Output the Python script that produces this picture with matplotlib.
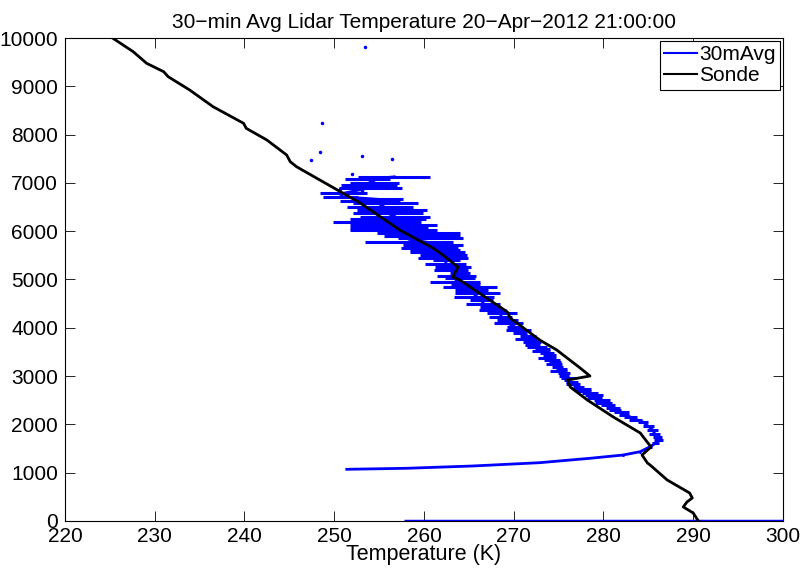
import matplotlib
matplotlib.use("Agg")
import matplotlib.pyplot as plt
from matplotlib.lines import Line2D
import numpy as np

plt.rcParams['font.family'] = ['Liberation Sans', 'DejaVu Sans']

# Radiosonde profile (K, m)
sonde_temp = [290.6, 290.5, 290.0, 288.9, 289.3, 289.9, 289.6, 287.1, 285.2, 284.9,
              284.3, 285.3, 284.1, 281.1, 278.2, 276.3, 276.0, 278.5, 277.4, 274.8,
              272.9, 269.6, 269.3, 264.0, 263.2, 263.8, 262.1, 261.0, 257.3, 252.9,
              245.8, 245.1, 244.7, 242.5, 240.2, 239.9, 236.5, 233.9, 231.5, 231.0,
              229.1, 227.6, 225.3]
sonde_alt = [0, 21, 166, 290, 393, 476, 580, 849, 1159, 1201,
             1366, 1532, 1822, 2153, 2505, 2774, 2919, 3002, 3168, 3540,
             3747, 4203, 4327, 4990, 5052, 5259, 5507, 5652, 6025, 6584,
             7335, 7439, 7578, 7888, 8130, 8234, 8578, 8923, 9199, 9302,
             9476, 9717, 10000]

# 30-min averaged lidar temperature with error (K, m)
lidar_alt = [1070, 1091, 1139, 1207, 1298, 1366, 1435, 1538, 1610, 1677,
             1740, 1810, 1884, 1960, 2050, 2100, 2153, 2200, 2250, 2300,
             2340, 2400, 2450, 2505, 2550, 2600, 2643, 2700, 2740, 2781,
             2830, 2870, 2919, 2970, 3010, 3058, 3100, 3150, 3195, 3240,
             3290, 3333, 3380, 3430, 3472, 3520, 3570, 3609, 3644, 3712,
             3760, 3820, 3886, 3950, 4023, 4090, 4161, 4230, 4300, 4370,
             4437, 4500, 4576, 4640, 4713, 4780, 4851, 4900, 4955, 5030,
             5080, 5128, 5200, 5265, 5330, 5404, 5450, 5507, 5560, 5611,
             5660, 5714, 5783, 5852, 5900, 5956, 6025, 6059, 6128, 6197,
             6250, 6301, 6370, 6439, 6508, 6577, 6620, 6660, 6715, 6784,
             6900, 6957, 7004, 7073, 7126]
lidar_temp = [251.4, 258.1, 265.5, 272.9, 278.5, 282.2, 284.1, 285.2, 285.8, 286.1,
              286.0, 285.7, 285.5, 285.0, 284.4, 283.6, 283.0, 282.3, 282.0, 281.3,
              281.1, 280.5, 280.0, 279.8, 279.0, 278.9, 278.5, 277.8, 277.6, 277.2,
              276.6, 276.5, 276.0, 276.1, 275.6, 275.6, 275.0, 275.3, 274.9, 274.5,
              274.6, 274.3, 273.7, 274.0, 273.7, 273.0, 273.2, 272.6, 272.1, 272.0,
              271.5, 271.6, 270.7, 270.5, 270.1, 269.4, 269.3, 268.5, 268.7, 267.6,
              267.4, 266.6, 266.4, 265.6, 266.0, 265.3, 265.1, 264.6, 263.5, 264.0,
              263.6, 264.0, 263.0, 263.2, 262.4, 262.5, 262.1, 262.2, 261.5, 261.2,
              260.6, 261.0, 258.3, 260.7, 259.8, 259.4, 256.6, 256.1, 256.6, 254.8,
              256.0, 256.8, 256.0, 256.4, 255.1, 255.7, 254.0, 254.9, 250.7, 251.0,
              254.0, 253.9, 254.5, 253.7, 256.7]
lidar_err = [0.0, 0.0, 0.0, 0.0, 0.0, 0.1, 0.1, 0.2, 0.4, 0.5,
             0.5, 0.6, 0.6, 0.6, 0.6, 0.7, 0.7, 0.6, 0.8, 0.7,
             0.8, 0.8, 0.9, 0.9, 0.8, 1.0, 0.9, 0.8, 1.0, 0.6,
             0.8, 0.7, 0.4, 0.8, 0.6, 0.7, 0.9, 0.6, 0.6, 0.9,
             0.7, 0.9, 1.0, 0.7, 0.8, 1.0, 0.8, 1.1, 0.8, 1.0,
             1.3, 0.9, 0.8, 1.4, 0.9, 1.6, 1.2, 1.3, 1.7, 1.5,
             1.2, 1.9, 1.3, 2.2, 2.5, 1.8, 3.0, 1.6, 2.8, 1.7,
             2.2, 1.1, 1.9, 2.0, 2.3, 1.5, 2.8, 2.6, 3.1, 2.8,
             3.2, 3.3, 4.9, 3.6, 4.2, 4.6, 4.8, 4.3, 4.8, 4.9,
             4.2, 3.9, 3.9, 3.9, 3.7, 3.6, 3.3, 2.8, 1.9, 2.6,
             3.5, 3.1, 2.7, 2.5, 4.0]

# isolated lidar points above the main profile
dot_temp = [253.4, 248.6, 248.4, 247.4, 253.1, 256.4, 252.0, 250.6, 253.1]
dot_alt = [9814, 8240, 7640, 7474, 7557, 7495, 7184, 6874, 6832]

# near-surface lidar bin
surf_alt = 0
surf_tmin = 257.8
surf_tmax = 305.0

blue = '#0000ff'

fig = plt.figure(figsize=(8.04, 5.69), dpi=100)
ax = fig.add_axes([0.0808, 0.0844, 0.8930, 0.8488])

ax.errorbar(lidar_temp, lidar_alt, xerr=lidar_err, color=blue, linewidth=2,
            elinewidth=2.2, capsize=0, zorder=2)
ax.plot(dot_temp, dot_alt, linestyle='none', marker='.', markersize=3,
        color=blue, zorder=2)
ax.hlines(surf_alt, surf_tmin, surf_tmax, color=blue, linewidth=2.5, zorder=2)
ax.plot(sonde_temp, sonde_alt, color='black', linewidth=2, zorder=3)

ax.set_xlim(220, 300)
ax.set_ylim(0, 10000)
ax.set_xticks(np.arange(220, 301, 10))
ax.set_yticks(np.arange(0, 10001, 1000))
ax.tick_params(direction='in', length=7, width=0.6, top=True, right=True,
               labelsize=15, colors='black')
ax.tick_params(axis='x', pad=4)
ax.tick_params(axis='y', pad=5)
for s in ax.spines.values():
    s.set_linewidth(0.8)

ax.set_xlabel('Temperature (K)', fontsize=15.5, labelpad=-1)
ax.set_title('30\u2212min Avg Lidar Temperature 20\u2212Apr\u22122012 21:00:00',
             fontsize=15, pad=7)

handles = [Line2D([], [], color=blue, linewidth=1.5),
           Line2D([], [], color='black', linewidth=1.5)]
leg = ax.legend(handles, ['30mAvg', 'Sonde'], loc='upper right', fontsize=15,
                fancybox=False, framealpha=1, edgecolor='black',
                handlelength=1.6, handletextpad=0.1, borderpad=0.2,
                labelspacing=0.1, borderaxespad=0.15)
leg.get_frame().set_linewidth(0.8)

fig.savefig('out.png', dpi=100)
